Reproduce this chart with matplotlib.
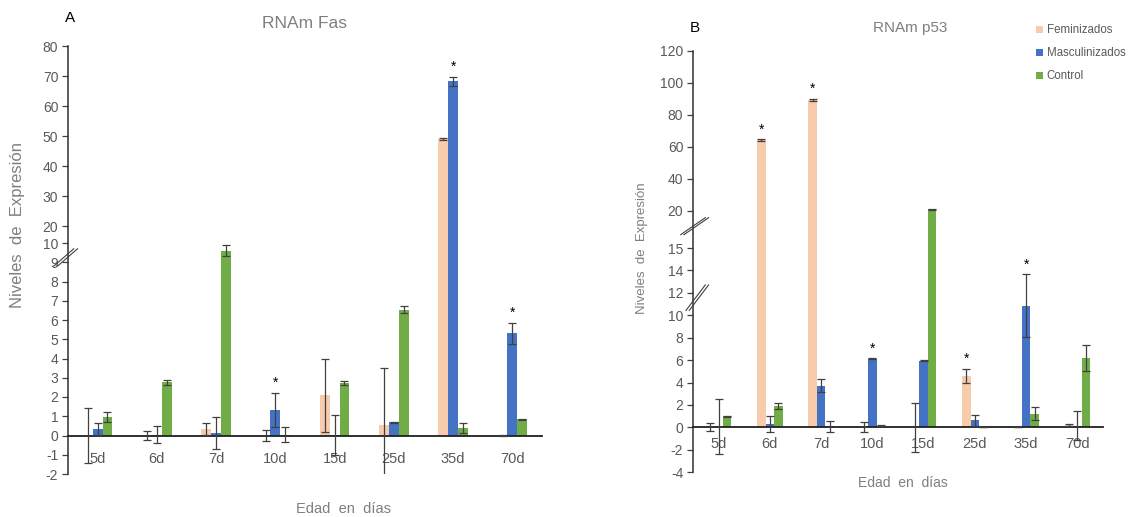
import matplotlib
matplotlib.use("Agg")
import matplotlib.pyplot as plt
import numpy as np

plt.rcParams['font.family'] = ['Liberation Sans', 'DejaVu Sans']

edades = ["5d", "6d", "7d", "10d", "15d", "25d", "35d", "70d"]
series = ["Feminizados", "Masculinizados", "Control"]
colores = ["#F8CBAD", "#4472C4", "#70AD47"]

# Panel A - RNAm Fas
fas_fem = [0.0, 0.0, 0.33, 0.0, 2.1, 0.53, 49.0, 0.0]
fas_fem_err = [1.45, 0.25, 0.32, 0.31, 1.9, 3.0, 0.3, 0.05]
fas_mas = [0.33, 0.05, 0.13, 1.34, 0.02, 0.69, 68.3, 5.3]
fas_mas_err = [0.32, 0.45, 0.85, 0.88, 1.05, 0.03, 1.5, 0.55]
fas_con = [0.96, 2.77, 9.6, 0.05, 2.73, 6.53, 0.37, 0.84]
fas_con_err = [0.25, 0.13, 0.3, 0.38, 0.12, 0.18, 0.26, 0.03]
fas_estrella = [(3, 1), (6, 1), (7, 1)]

# Panel B - RNAm p53
p53_fem = [0.05, 64.4, 89.5, 0.0, 0.0, 4.58, 0.0, 0.18]
p53_fem_err = [0.35, 0.5, 0.5, 0.45, 2.2, 0.65, 0.0, 0.1]
p53_mas = [0.05, 0.27, 3.72, 6.13, 5.95, 0.63, 10.83, 0.15]
p53_mas_err = [2.45, 0.7, 0.57, 0.05, 0.05, 0.5, 2.8, 1.3]
p53_con = [0.98, 1.9, 0.1, 0.15, 21.2, 0.0, 1.22, 6.19]
p53_con_err = [0.05, 0.3, 0.5, 0.05, 0.3, 0.0, 0.6, 1.2]
p53_estrella = [(1, 0), (2, 0), (3, 1), (5, 0), (6, 1)]

# broken-axis look: piecewise linear y scale (value -> relative height)
def make_scale(vals, pos):
    vals = np.asarray(vals, float)
    pos = np.asarray(pos, float)
    s0 = (pos[1] - pos[0]) / (vals[1] - vals[0])
    s1 = (pos[-1] - pos[-2]) / (vals[-1] - vals[-2])
    v = np.concatenate([[vals[0] - 1e4], vals, [vals[-1] + 1e4]])
    p = np.concatenate([[pos[0] - 1e4 * s0], pos, [pos[-1] + 1e4 * s1]])
    fwd = lambda x: np.interp(x, v, p)
    inv = lambda y: np.interp(y, p, v)
    return fwd, inv

fig = plt.figure(figsize=(11.31, 5.17), dpi=100)
gris = "#7f7f7f"
tick_gris = "#595959"

def panel(rect, fem, fem_e, mas, mas_e, con, con_e, estrellas, scale, yticks,
          titulo, letra, letra_xy, titulo_xy, ylab_xy, xlab_xy, breaks, xpad,
          fs_tit, fs_xlab, fs_ylab):
    ax = fig.add_axes(rect)
    fwd, inv = make_scale(*scale)
    ax.set_yscale('function', functions=(fwd, inv))
    x = np.arange(len(edades))
    w = 0.165
    datos = [(fem, fem_e), (mas, mas_e), (con, con_e)]
    for k, (vals, errs) in enumerate(datos):
        xs = x + (k - 1) * w
        ax.bar(xs, vals, w, color=colores[k], label=series[k], zorder=2)
        ax.errorbar(xs, vals, yerr=errs, fmt='none', ecolor="#404040",
                    elinewidth=0.9, capsize=3, capthick=0.9, zorder=3)
    for i, k in estrellas:
        vals, errs = datos[k]
        top = vals[i] + errs[i]
        ax.annotate("*", (x[i] + (k - 1) * w, top), xytext=(0, 2),
                    textcoords='offset points', ha='center', va='bottom',
                    fontsize=10, color='black')
    ax.set_xlim(-0.5, len(edades) - 0.5)
    ax.set_ylim(yticks[0], yticks[-1])
    ax.set_yticks(yticks)
    ax.set_yticklabels([str(t) for t in yticks])
    ax.set_xticks(x)
    ax.set_xticklabels(edades)
    ax.tick_params(axis='x', length=0, pad=xpad, labelsize=10.5, labelcolor=tick_gris)
    ax.tick_params(axis='y', length=4, width=0.9, color="#404040",
                   labelsize=10, labelcolor=tick_gris, pad=3)
    for s in ['top', 'right']:
        ax.spines[s].set_visible(False)
    ax.spines['bottom'].set_position(('data', 0))
    ax.spines['bottom'].set_linewidth(1.3)
    ax.spines['bottom'].set_color('#202020')
    ax.spines['left'].set_linewidth(1.1)
    ax.spines['left'].set_color('#303030')
    ax.patch.set_alpha(0)
    tr = ax.get_yaxis_transform()
    for (x0, y0, x1, y1) in breaks:
        for d in (0.0, 0.008):
            ax.plot([x0 + d, x1 + d], [y0, y1], color="#404040", lw=0.8,
                    transform=tr, clip_on=False, zorder=5)
    fig.text(titulo_xy[0] / 1131, 1 - titulo_xy[1] / 517, titulo, ha='center',
             va='center', fontsize=fs_tit, color=gris)
    fig.text(letra_xy[0] / 1131, 1 - letra_xy[1] / 517, letra, ha='center',
             va='center', fontsize=11, color='black')
    fig.text(ylab_xy[0] / 1131, 1 - ylab_xy[1] / 517, "Niveles  de  Expresión",
             rotation=90, ha='center', va='center', fontsize=fs_ylab, color=gris)
    fig.text(xlab_xy[0] / 1131, 1 - xlab_xy[1] / 517, "Edad  en  días",
             ha='center', va='center', fontsize=fs_xlab, color=gris)
    return ax

ax_a = panel([68 / 1131, 1 - 474 / 517, 474 / 1131, 428 / 517],
             fas_fem, fas_fem_err, fas_mas, fas_mas_err, fas_con, fas_con_err,
             fas_estrella,
             ([-2, 10, 20, 80], [0, 231, 248, 428]),
             [-2, -1, 0, 1, 2, 3, 4, 5, 6, 7, 8, 9, 10, 20, 30, 40, 50, 60, 70, 80],
             "RNAm Fas", "A", (70, 18), (305, 23), (18, 225), (343, 509),
             [(-0.03, 8.8, 0.012, 9.7)], 12, 12.5, 10.5, 12)

ax_b = panel([693 / 1131, 1 - 472 / 517, 410 / 1131, 421 / 517],
             p53_fem, p53_fem_err, p53_mas, p53_mas_err, p53_con, p53_con_err,
             p53_estrella,
             ([-4, 12, 14, 15, 20, 120], [0, 179, 202, 224, 261, 421]),
             [-4, -2, 0, 2, 4, 6, 8, 10, 12, 14, 15, 20, 40, 60, 80, 100, 120],
             "RNAm p53", "B", (695, 28), (910, 28), (642, 248), (903, 483),
             [(-0.03, 16.8, 0.03, 19.1), (-0.017, 10.45, 0.03, 12.7)], 7, 11,
             10, 9.5)

fig.legend(*ax_b.get_legend_handles_labels(), loc='upper left',
           bbox_to_anchor=(1026 / 1131, 1 - 14 / 517), frameon=False,
           fontsize=8.3, handlelength=0.6, handleheight=0.6, handletextpad=0.3,
           labelspacing=0.95, labelcolor=tick_gris)

fig.savefig("out.png", dpi=100)
